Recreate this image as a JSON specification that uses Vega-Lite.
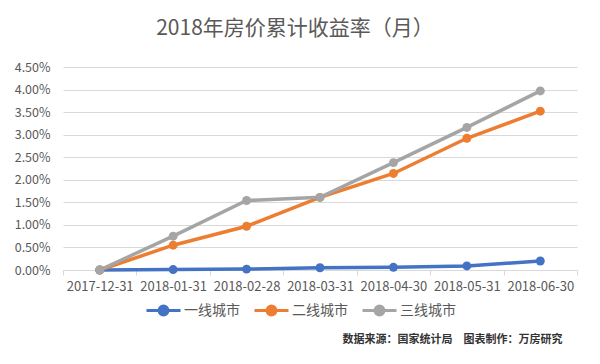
{
  "$schema": "https://vega.github.io/schema/vega-lite/v6.json",
  "width": 514,
  "height": 203,
  "autosize": {"type": "none"},
  "padding": {"left": 63, "top": 67, "right": 23, "bottom": 94},
  "background": "white",
  "title": {
    "text": "2018年房价累计收益率（月）",
    "font": "Noto Sans CJK SC",
    "fontSize": 21,
    "fontWeight": "normal",
    "color": "#595959",
    "anchor": "middle",
    "dx": -25,
    "offset": 22
  },
  "data": {
    "values": [
      {"date": "2017-12-31", "tier": "一线城市", "v": 0.0},
      {"date": "2018-01-31", "tier": "一线城市", "v": 0.0001},
      {"date": "2018-02-28", "tier": "一线城市", "v": 0.0002},
      {"date": "2018-03-31", "tier": "一线城市", "v": 0.0005},
      {"date": "2018-04-30", "tier": "一线城市", "v": 0.0006},
      {"date": "2018-05-31", "tier": "一线城市", "v": 0.0009},
      {"date": "2018-06-30", "tier": "一线城市", "v": 0.0020},
      {"date": "2017-12-31", "tier": "二线城市", "v": 0.0},
      {"date": "2018-01-31", "tier": "二线城市", "v": 0.0055},
      {"date": "2018-02-28", "tier": "二线城市", "v": 0.0097},
      {"date": "2018-03-31", "tier": "二线城市", "v": 0.0161},
      {"date": "2018-04-30", "tier": "二线城市", "v": 0.0214},
      {"date": "2018-05-31", "tier": "二线城市", "v": 0.0292},
      {"date": "2018-06-30", "tier": "二线城市", "v": 0.0352},
      {"date": "2017-12-31", "tier": "三线城市", "v": 0.0},
      {"date": "2018-01-31", "tier": "三线城市", "v": 0.0075},
      {"date": "2018-02-28", "tier": "三线城市", "v": 0.0154},
      {"date": "2018-03-31", "tier": "三线城市", "v": 0.0161},
      {"date": "2018-04-30", "tier": "三线城市", "v": 0.0238},
      {"date": "2018-05-31", "tier": "三线城市", "v": 0.0316},
      {"date": "2018-06-30", "tier": "三线城市", "v": 0.0397}
    ]
  },
  "mark": {
    "type": "line",
    "strokeWidth": 3.5,
    "point": {"filled": true, "size": 80}
  },
  "encoding": {
    "x": {
      "field": "date",
      "type": "ordinal",
      "bandPosition": 0.5,
      "scale": {"type": "band", "paddingInner": 0, "paddingOuter": 0},
      "axis": {
        "title": "数据来源：国家统计局　图表制作：万房研究",
        "titleFont": "Noto Sans CJK SC",
        "titleFontSize": 11,
        "titleFontWeight": "bold",
        "titleColor": "#333333",
        "titleAnchor": "end",
        "titleAlign": "right",
        "titleBaseline": "middle",
        "titleX": 499,
        "titleY": 69,
        "labelAngle": 0,
        "labelFont": "Noto Sans CJK SC",
        "labelFontSize": 13,
        "labelColor": "#595959",
        "labelPadding": 5,
        "tickBand": "extent",
        "tickSize": 5,
        "tickColor": "#D9D9D9",
        "domainColor": "#D9D9D9",
        "grid": false
      }
    },
    "y": {
      "field": "v",
      "type": "quantitative",
      "scale": {"domain": [0, 0.045], "nice": false},
      "axis": {
        "title": null,
        "format": ".2%",
        "values": [0, 0.005, 0.01, 0.015, 0.02, 0.025, 0.03, 0.035, 0.04, 0.045],
        "labelFont": "Noto Sans CJK SC",
        "labelFontSize": 12.5,
        "labelColor": "#595959",
        "labelPadding": 13,
        "ticks": false,
        "domain": false,
        "grid": true,
        "gridColor": "#D9D9D9",
        "gridWidth": 1
      }
    },
    "color": {
      "field": "tier",
      "type": "nominal",
      "sort": ["一线城市", "二线城市", "三线城市"],
      "scale": {
        "domain": ["一线城市", "二线城市", "三线城市"],
        "range": ["#4472C4", "#ED7D31", "#A5A5A5"]
      },
      "legend": {
        "title": null,
        "orient": "none",
        "direction": "horizontal",
        "legendX": 82,
        "legendY": 225,
        "labelFont": "Noto Sans CJK SC",
        "labelFontSize": 14,
        "labelColor": "#595959",
        "labelOffset": 2,
        "columnPadding": 8,
        "symbolType": "M-1,0H1M0.26,0A0.26,0.26 0 1,1 -0.26,0A0.26,0.26 0 1,1 0.26,0",
        "symbolSize": 1156,
        "symbolStrokeWidth": 3,
        "encode": {
          "symbols": {
            "update": {
              "fill": {"scale": "color", "field": "value"},
              "stroke": {"scale": "color", "field": "value"},
              "opacity": {"value": 1}
            }
          }
        }
      }
    }
  },
  "config": {
    "view": {"stroke": null}
  }
}
